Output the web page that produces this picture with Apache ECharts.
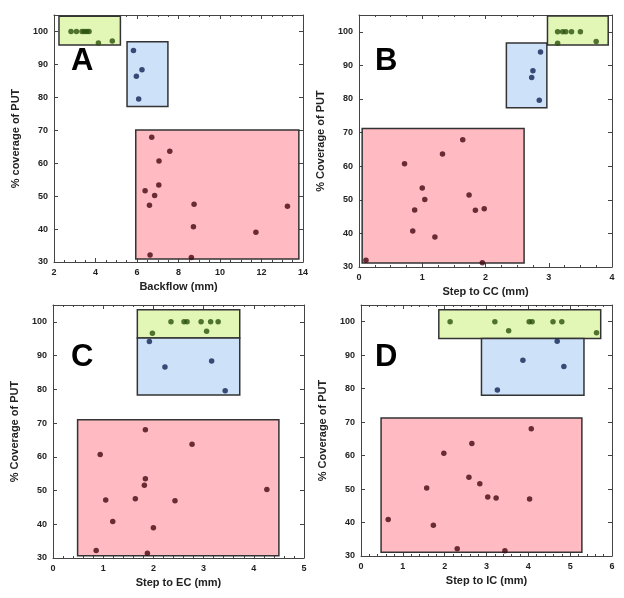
<!DOCTYPE html>
<html>
<head>
<meta charset="utf-8">
<script src="https://cdn.jsdelivr.net/npm/echarts@6/dist/echarts.min.js"></script>
<style>
  html, body { margin: 0; padding: 0; background: #fff; }
  #chart { width: 624px; height: 598px; }
</style>
</head>
<body>
<div id="chart"></div>
<script>
// 패널별 데이터
const greenA = [[2.82,100],[3.08,100],[3.35,100],[3.46,100],[3.58,100],[3.69,100],[4.14,96.5],[4.81,97.1]];
const blueA = [[5.83,94.2],[6.24,88.4],[5.97,86.4],[6.08,79.5]];
const redA = [[6.71,67.9],[7.58,63.6],[7.06,60.7],[7.05,53.4],[6.39,51.6],[6.85,50.2],[6.60,47.2],[8.75,47.5],[13.25,46.9],[8.72,40.7],[11.73,39.0],[6.63,32.1],[8.62,31.4]];
// 박스 범위: [x0, x1, y0, y1]
const boxesA = [[2.24,5.2,95.9,104.6],[5.52,7.49,77.2,96.9],[5.94,13.8,30.9,70.1]];

const greenB = [[3.14,100],[3.22,100],[3.27,100],[3.36,100],[3.50,100],[3.14,96.6],[3.75,97.1]];
const blueB = [[2.87,94.0],[2.75,88.4],[2.73,86.4],[2.85,79.6]];
const redB = [[1.64,67.9],[1.32,63.6],[0.72,60.7],[1.00,53.5],[1.74,51.4],[1.04,50.1],[0.88,47.0],[1.84,46.9],[1.98,47.3],[0.85,40.7],[1.20,38.9],[0.11,32.0],[1.95,31.3]];
const boxesB = [[2.98,3.94,96.1,104.7],[2.33,2.97,77.4,96.7],[0.05,2.61,31.2,71.2]];

const greenC = [[2.35,100],[2.61,100],[2.67,100],[2.95,100],[3.14,100],[3.29,100],[1.98,96.6],[3.06,97.2]];
const blueC = [[1.92,94.2],[2.23,86.6],[3.16,88.4],[3.43,79.6]];
const redC = [[1.84,68.0],[2.77,63.7],[0.94,60.7],[1.84,53.5],[1.82,51.6],[4.26,50.3],[1.05,47.2],[1.64,47.6],[2.43,47.0],[1.19,40.8],[2.00,39.0],[0.86,32.2],[1.88,31.4]];
const boxesC = [[1.68,3.72,95.2,103.6],[1.68,3.72,78.3,95.2],[0.49,4.50,30.7,71.0]];

const greenD = [[2.13,100],[3.20,100],[4.02,100],[4.09,100],[4.59,100],[4.80,100],[3.53,97.3],[5.63,96.7]];
const blueD = [[4.69,94.2],[3.87,88.5],[4.85,86.6],[3.26,79.6]];
const redD = [[4.07,68.0],[2.65,63.6],[1.98,60.7],[2.58,53.5],[2.84,51.6],[1.57,50.3],[3.03,47.6],[3.23,47.3],[4.03,47.0],[0.65,40.9],[1.73,39.2],[2.30,32.2],[3.44,31.6]];
const boxesD = [[1.86,5.73,95.0,103.6],[2.88,5.33,78.0,95.0],[0.48,5.28,31.1,71.2]];

const letters = ['A', 'B', 'C', 'D'];
const xNames = ['Backflow (mm)', 'Step to CC (mm)', 'Step to EC (mm)', 'Step to IC (mm)'];
const yNames = ['% coverage of PUT', '% Coverage of PUT', '% Coverage of PUT', '% Coverage of PUT'];
const xMins = [2, 0, 0, 0];
const xMaxs = [14, 4, 5, 6];
const xSteps = [2, 1, 1, 1];
const xMinorSplits = [4, 4, 5, 5];
const yMin = 30, yMax = 105, yStep = 10;

const panelData = [
  [greenA, blueA, redA, boxesA],
  [greenB, blueB, redB, boxesB],
  [greenC, blueC, redC, boxesC],
  [greenD, blueD, redD, boxesD]
];

const grids = [
  { left: 54, top: 15, width: 249, height: 247 },
  { left: 359, top: 15, width: 253, height: 252 },
  { left: 53, top: 305, width: 251, height: 253 },
  { left: 361, top: 305, width: 251, height: 251 }
];
const letterPos = [[82, 62], [386, 62], [82, 358], [386, 358]];

const fills = ['#e2f7b6', '#cde1f9', '#ffbac2'];
const dots = ['#2a500e', '#102454', '#440810'];
const frame = '#444';
const font = 'Liberation Sans, Arial, sans-serif';

const xAxis = [], yAxis = [], series = [], graphic = [];

grids.forEach((g, i) => {
  const baseX = {
    gridIndex: i, type: 'value', min: xMins[i], max: xMaxs[i], interval: xSteps[i],
    axisLine: { show: true, onZero: false, lineStyle: { color: frame, width: 1 } },
    axisTick: { show: true, inside: true, length: 4, lineStyle: { color: frame } },
    minorTick: { show: true, splitNumber: xMinorSplits[i], length: 2, lineStyle: { color: frame } },
    splitLine: { show: false }
  };
  xAxis.push(Object.assign({}, baseX, {
    position: 'bottom',
    axisLabel: { color: '#222', fontSize: 9, fontWeight: 'bold', fontFamily: font, margin: 6 },
    name: xNames[i], nameLocation: 'middle', nameGap: 19,
    nameTextStyle: { color: '#222', fontSize: 11, fontWeight: 'bold', fontFamily: font }
  }));
  xAxis.push(Object.assign({}, baseX, { position: 'top', axisLabel: { show: false } }));

  const baseY = {
    gridIndex: i, type: 'value', min: yMin, max: yMax, interval: yStep,
    axisLine: { show: true, onZero: false, lineStyle: { color: frame, width: 1 } },
    axisTick: { show: true, inside: true, length: 4, lineStyle: { color: frame } },
    splitLine: { show: false }
  };
  yAxis.push(Object.assign({}, baseY, {
    position: 'left',
    axisLabel: { color: '#222', fontSize: 9, fontWeight: 'bold', fontFamily: font, margin: 6, showMaxLabel: false },
    name: yNames[i], nameLocation: 'middle', nameGap: 33,
    nameTextStyle: { color: '#222', fontSize: 11, fontWeight: 'bold', fontFamily: font }
  }));
  yAxis.push(Object.assign({}, baseY, { position: 'right', axisLabel: { show: false } }));

  const [green, blue, red, boxes] = panelData[i];
  [green, blue, red].forEach((pts, k) => {
    const b = boxes[k];
    series.push({
      type: 'scatter',
      xAxisIndex: i * 2, yAxisIndex: i * 2,
      data: pts,
      symbol: 'circle', symbolSize: 5.5,
      itemStyle: { color: dots[k] },
      z: 5,
      silent: true,
      markArea: {
        silent: true,
        itemStyle: { color: fills[k], borderColor: '#333', borderWidth: 1.5 },
        data: [[{ coord: [b[0], b[2]] }, { coord: [b[1], b[3]] }]]
      }
    });
  });

  graphic.push({
    type: 'text', left: letterPos[i][0] - 11, top: letterPos[i][1] - 16,
    style: { text: letters[i], fill: '#000', font: 'bold 31px ' + font }
  });
});

const chart = echarts.init(document.getElementById('chart'));
chart.setOption({
  animation: false,
  backgroundColor: '#fff',
  grid: grids,
  xAxis: xAxis,
  yAxis: yAxis,
  series: series,
  graphic: graphic
});
</script>
</body>
</html>
